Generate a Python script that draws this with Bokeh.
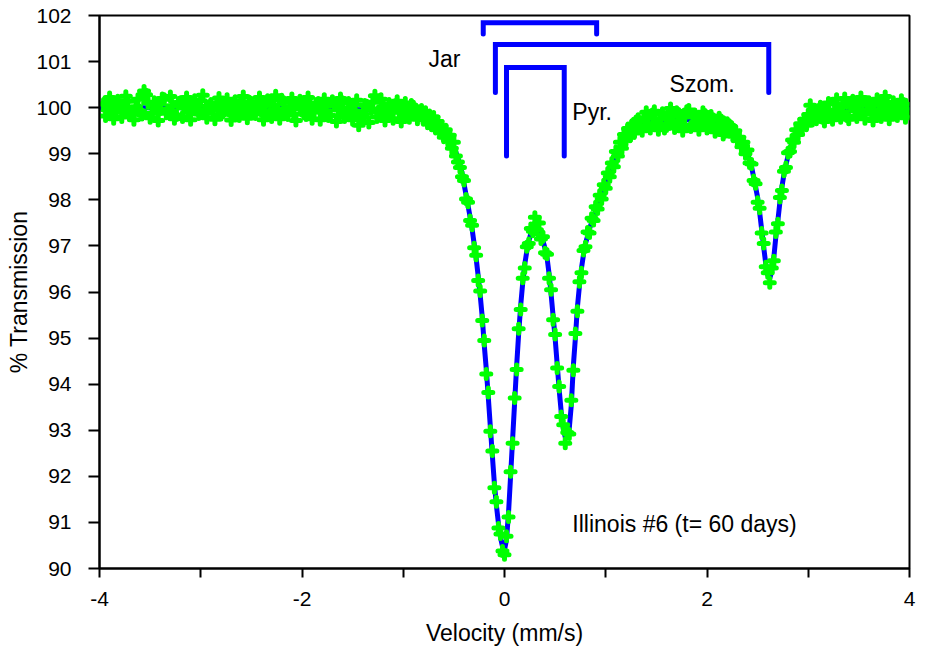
from bokeh.plotting import figure
from bokeh.models import FixedTicker, Label, LinearAxis, Range1d
from bokeh.embed import file_html
from bokeh.resources import INLINE

# ---------------- data ----------------
seg_a_vel = [-3.96, -3.92, -3.88, -3.84, -3.80, -3.76, -3.72, -3.68, -3.64, -3.60,
             -3.56, -3.52, -3.48, -3.44, -3.40, -3.36, -3.32, -3.28, -3.24, -3.20,
             -3.16, -3.12, -3.08, -3.04, -3.00, -2.96, -2.92, -2.88, -2.84, -2.80,
             -2.76, -2.72, -2.68, -2.64, -2.60, -2.56, -2.52, -2.48, -2.44, -2.40,
             -2.36, -2.32, -2.28, -2.24, -2.20, -2.16, -2.12, -2.08, -2.04, -2.00,
             -1.96, -1.92, -1.88, -1.84, -1.80, -1.76, -1.72, -1.68, -1.64, -1.60,
             -1.56, -1.52, -1.48, -1.44, -1.40, -1.36, -1.32, -1.28, -1.24, -1.20,
             -1.16, -1.12, -1.08, -1.04, -1.00, -0.96, -0.92, -0.88, -0.84]
seg_a_trans = [100.08, 99.95, 100.12, 99.90, 100.05, 99.98, 100.14, 99.86, 100.02, 99.93,
               100.36, 100.10, 99.88, 100.06, 99.97, 100.18, 99.92, 100.04, 99.84, 100.12,
               100.00, 99.90, 100.08, 99.96, 100.15, 99.88, 100.03, 99.95, 100.10, 99.85,
               100.02, 99.94, 100.09, 99.90, 100.06, 99.97, 100.13, 99.89, 100.04, 99.93,
               100.11, 99.87, 100.05, 99.96, 100.17, 99.92, 100.02, 99.86, 100.08, 99.98,
               99.84, 100.06, 99.94, 100.10, 99.90, 100.03, 99.83, 100.07, 99.95, 100.12,
               99.88, 100.00, 99.93, 99.62, 99.85, 100.04, 99.97, 100.26, 99.90, 100.02,
               99.82, 99.96, 100.05, 99.90, 99.97, 99.84, 100.06, 99.93, 99.88]
seg_a2_vel = [-3.94, -3.90, -3.86, -3.82, -3.78, -3.74, -3.70, -3.66, -3.62, -3.58,
              -3.54, -3.50, -3.46, -3.42, -3.38, -3.34, -3.30, -3.26, -3.22, -3.18,
              -3.14, -3.10, -3.06, -3.02, -2.98, -2.94, -2.90, -2.86, -2.82, -2.78,
              -2.74, -2.70, -2.66, -2.62, -2.58, -2.54, -2.50, -2.46, -2.42, -2.38,
              -2.34, -2.30, -2.26, -2.22, -2.18, -2.14, -2.10, -2.06, -2.02, -1.98,
              -1.94, -1.90, -1.86, -1.82, -1.78, -1.74, -1.70, -1.66, -1.62, -1.58,
              -1.54, -1.50, -1.46, -1.42, -1.38, -1.34, -1.30, -1.26, -1.22, -1.18,
              -1.14, -1.10, -1.06, -1.02, -0.98, -0.94, -0.90, -0.86]
seg_a2_trans = [99.82, 100.22, 99.76, 100.15, 99.80, 100.25, 99.90, 99.74, 100.18, 99.85,
                100.28, 99.78, 100.12, 99.72, 100.20, 99.88, 100.24, 99.76, 100.10, 99.80,
                100.22, 99.74, 100.16, 99.86, 100.27, 99.78, 100.08, 99.75, 100.21, 99.90,
                100.18, 99.73, 100.14, 99.82, 100.24, 99.77, 100.10, 99.86, 100.22, 99.74,
                100.16, 99.80, 100.26, 99.76, 100.12, 99.84, 100.20, 99.72, 100.15, 99.88,
                100.22, 99.76, 100.08, 99.74, 100.18, 99.82, 100.14, 99.70, 100.20, 99.80,
                100.10, 99.74, 100.16, 99.78, 100.06, 99.68, 100.12, 99.80, 100.18, 99.72,
                100.08, 99.76, 100.14, 99.70, 100.10, 99.78, 100.02, 99.75]
seg_b_vel = [-0.82, -0.80, -0.78, -0.76, -0.74, -0.72, -0.70, -0.68, -0.66, -0.64,
             -0.62, -0.60, -0.58, -0.56, -0.54, -0.52, -0.50, -0.48, -0.46, -0.44,
             -0.42, -0.40, -0.38, -0.36, -0.34, -0.32, -0.30, -0.28, -0.26, -0.24,
             -0.22, -0.20, -0.18, -0.16, -0.14, -0.12, -0.10, -0.08, -0.06, -0.04,
             -0.02, 0.00, 0.02, 0.04, 0.06, 0.08, 0.10, 0.12, 0.14, 0.16,
             0.18, 0.20, 0.22, 0.24, 0.26, 0.28, 0.30, 0.32, 0.34, 0.36,
             0.38, 0.40, 0.42, 0.44, 0.46, 0.48, 0.50, 0.52, 0.54, 0.56,
             0.58, 0.60, 0.62, 0.64, 0.66, 0.68, 0.70, 0.72, 0.74, 0.76,
             0.78, 0.80, 0.82, 0.84, 0.86, 0.88, 0.90, 0.92, 0.94, 0.96,
             0.98, 1.00, 1.02, 1.04, 1.06, 1.08, 1.10, 1.12, 1.14, 1.16,
             1.18, 1.20, 1.22, 1.24, 1.26, 1.28, 1.30]
seg_b_trans = [99.95, 99.74, 99.90, 99.66, 99.83, 99.62, 99.80, 99.55, 99.70, 99.48,
               99.60, 99.36, 99.52, 99.30, 99.40, 99.12, 99.25, 98.95, 98.82, 98.70,
               98.50, 98.42, 98.02, 97.95, 97.55, 97.45, 96.96, 96.80, 96.25, 96.02,
               95.38, 94.95, 94.22, 93.82, 92.98, 92.55, 91.75, 91.45, 90.88, 90.75,
               90.38, 90.30, 90.70, 91.12, 92.10, 92.72, 93.70, 94.32, 95.20, 95.62,
               96.30, 96.52, 96.98, 97.05, 97.38, 97.32, 97.62, 97.35, 97.50, 97.15,
               97.20, 96.85, 96.82, 96.30, 96.05, 95.40, 95.08, 94.35, 93.95, 93.30,
               93.12, 92.72, 92.95, 92.92, 93.65, 94.30, 95.10, 95.58, 96.22, 96.42,
               96.90, 96.98, 97.30, 97.28, 97.60, 97.55, 97.85, 97.80, 98.10, 98.02,
               98.33, 98.25, 98.58, 98.50, 98.80, 98.72, 99.05, 98.95, 99.25, 99.12,
               99.42, 99.30, 99.55, 99.38, 99.62, 99.45, 99.70]
seg_c_vel = [1.34, 1.38, 1.42, 1.46, 1.50, 1.54, 1.58, 1.62, 1.66, 1.70,
             1.74, 1.78, 1.82, 1.86, 1.90, 1.94, 1.98, 2.02, 2.06, 2.10,
             2.14, 2.18, 2.22]
seg_c_trans = [99.58, 99.78, 99.60, 99.85, 99.66, 99.75, 99.55, 99.82, 99.70, 99.90,
               99.64, 99.80, 99.95, 99.62, 99.78, 99.68, 99.84, 99.60, 99.75, 99.55,
               99.72, 99.48, 99.62]
seg_c2_vel = [1.32, 1.36, 1.40, 1.44, 1.48, 1.52, 1.56, 1.60, 1.64, 1.68,
              1.72, 1.76, 1.80, 1.84, 1.88, 1.92, 1.96, 2.00, 2.04, 2.08,
              2.12, 2.16, 2.20]
seg_c2_trans = [99.75, 99.50, 99.90, 99.55, 99.92, 99.52, 99.88, 99.60, 99.98, 99.56,
                99.86, 99.50, 99.92, 99.58, 99.85, 99.52, 99.90, 99.55, 99.82, 99.48,
                99.78, 99.42, 99.66]
seg_d_vel = [2.24, 2.26, 2.28, 2.30, 2.32, 2.34, 2.36, 2.38, 2.40, 2.42,
             2.44, 2.46, 2.48, 2.50, 2.52, 2.54, 2.56, 2.58, 2.60, 2.62,
             2.64, 2.66, 2.68, 2.70, 2.72, 2.74, 2.76, 2.78, 2.80, 2.82,
             2.84, 2.86, 2.88, 2.90, 2.92, 2.94, 2.96, 2.98, 3.00, 3.02,
             3.04, 3.06, 3.08, 3.10]
seg_d_trans = [99.58, 99.38, 99.50, 99.30, 99.36, 99.15, 99.25, 99.00, 99.08, 98.80,
               98.78, 98.42, 98.35, 97.95, 97.82, 97.28, 97.05, 96.55, 96.42, 96.20,
               96.52, 96.68, 97.30, 97.48, 98.05, 98.20, 98.62, 98.70, 99.02, 99.05,
               99.30, 99.25, 99.52, 99.42, 99.65, 99.55, 99.75, 99.62, 99.85, 100.05,
               99.72, 99.90, 99.75, 99.95]
seg_e_vel = [3.14, 3.18, 3.22, 3.26, 3.30, 3.34, 3.38, 3.42, 3.46, 3.50,
             3.54, 3.58, 3.62, 3.66, 3.70, 3.74, 3.78, 3.82, 3.86, 3.90,
             3.94, 3.98]
seg_e_trans = [99.78, 99.95, 99.85, 100.08, 99.90, 100.02, 99.82, 100.10, 99.94, 100.05,
               99.87, 100.12, 99.96, 99.85, 100.06, 99.92, 100.10, 99.88, 100.03, 99.94,
               100.08, 99.90]
seg_e2_vel = [3.12, 3.16, 3.20, 3.24, 3.28, 3.32, 3.36, 3.40, 3.44, 3.48,
              3.52, 3.56, 3.60, 3.64, 3.68, 3.72, 3.76, 3.80, 3.84, 3.88,
              3.92, 3.96]
seg_e2_trans = [100.02, 99.70, 100.10, 99.74, 100.18, 99.78, 100.20, 99.75, 100.15, 99.80,
                100.22, 99.76, 100.12, 99.72, 100.18, 99.80, 100.24, 99.75, 100.12, 99.82,
                100.16, 99.78]

fit_left_vel = [-4.0, -3.5, -3.0, -2.5, -2.0, -1.5, -1.2, -1.0, -0.9]
fit_left_trans = [100.0, 100.0, 100.0, 99.99, 99.98, 99.96, 99.94, 99.90, 99.87]
fit_b_trans = [99.83, 99.82, 99.80, 99.78, 99.76, 99.74, 99.72, 99.68, 99.64, 99.59,
               99.55, 99.50, 99.44, 99.38, 99.31, 99.23, 99.15, 99.03, 98.91, 98.77,
               98.59, 98.35, 98.11, 97.87, 97.63, 97.37, 97.05, 96.73, 96.35, 95.93,
               95.46, 94.85, 94.33, 93.72, 93.08, 92.45, 91.85, 91.37, 90.98, 90.68,
               90.48, 90.40, 90.63, 91.22, 92.00, 92.80, 93.60, 94.40, 95.10, 95.71,
               96.20, 96.60, 96.88, 97.10, 97.27, 97.39, 97.45, 97.41, 97.34, 97.24,
               97.11, 96.95, 96.75, 96.40, 95.96, 95.48, 95.00, 94.44, 93.88, 93.40,
               93.05, 92.85, 92.82, 93.05, 93.55, 94.40, 95.00, 95.67, 96.13, 96.51,
               96.81, 97.05, 97.21, 97.37, 97.51, 97.63, 97.75, 97.87, 97.99, 98.11,
               98.23, 98.35, 98.47, 98.59, 98.71, 98.83, 98.95, 99.05, 99.15, 99.24,
               99.32, 99.40, 99.44, 99.48, 99.52, 99.56, 99.60]
fit_mid_vel = [1.34, 1.4, 1.5, 1.6, 1.7, 1.8, 1.9, 2.0, 2.1, 2.2]
fit_mid_trans = [99.63, 99.68, 99.72, 99.73, 99.74, 99.74, 99.72, 99.70, 99.65, 99.55]
fit_d_trans = [99.50, 99.45, 99.40, 99.35, 99.29, 99.23, 99.16, 99.08, 99.00, 98.87,
               98.72, 98.50, 98.28, 98.05, 97.73, 97.35, 96.97, 96.62, 96.37, 96.30,
               96.45, 96.75, 97.20, 97.55, 97.95, 98.28, 98.55, 98.76, 98.95, 99.10,
               99.23, 99.34, 99.42, 99.50, 99.56, 99.61, 99.65, 99.69, 99.72, 99.74,
               99.76, 99.78, 99.80, 99.82]
fit_right_vel = [3.2, 3.4, 3.6, 3.8, 4.0]
fit_right_trans = [99.88, 99.94, 99.97, 99.98, 100.0]

jar_x = [-0.21, -0.21, 0.91, 0.91]
jar_y = [101.60, 101.84, 101.84, 101.60]
szom_x = [-0.09, -0.09, 2.61, 2.61]
szom_y = [100.33, 101.37, 101.37, 100.33]
pyr_x = [0.02, 0.02, 0.59, 0.59]
pyr_y = [98.95, 100.87, 100.87, 98.95]

x_ticks = [-4, -3, -2, -1, 0, 1, 2, 3, 4]
x_tick_labels = {-4: "-4", -3: "", -2: "-2", -1: "", 0: "0", 1: "", 2: "2", 3: "", 4: "4"}
y_ticks = [90, 91, 92, 93, 94, 95, 96, 97, 98, 99, 100, 101, 102]
code_tick = [3.9]
code_label = {3.9: "D-4612"}

data_x = (seg_a_vel + seg_a2_vel + seg_b_vel + seg_c_vel + seg_c2_vel
          + seg_d_vel + seg_e_vel + seg_e2_vel)
data_y = (seg_a_trans + seg_a2_trans + seg_b_trans + seg_c_trans + seg_c2_trans
          + seg_d_trans + seg_e_trans + seg_e2_trans)
fit_x = fit_left_vel + seg_b_vel + fit_mid_vel + seg_d_vel + fit_right_vel
fit_y = fit_left_trans + fit_b_trans + fit_mid_trans + fit_d_trans + fit_right_trans
assert len(data_x) == len(data_y)
assert len(fit_x) == len(fit_y)

FONT = "Liberation Sans"

p = figure(width=924, height=648,
           x_range=Range1d(-4, 4), y_range=Range1d(90, 102),
           output_backend="svg", toolbar_location=None,
           min_border_left=99, min_border_right=15,
           min_border_top=15, min_border_bottom=79)
p.xgrid.visible = False
p.ygrid.visible = False
p.outline_line_color = "black"
p.outline_line_width = 2
p.outline_line_alpha = 1.0
p.background_fill_color = "white"
p.border_fill_color = "white"

for ax in (p.xaxis[0], p.yaxis[0]):
    ax.axis_line_color = "black"
    ax.axis_line_width = 2
    ax.major_tick_line_color = "black"
    ax.major_tick_line_width = 2
    ax.minor_tick_line_color = None
    ax.major_tick_in = 0
    ax.major_label_text_font = FONT
    ax.major_label_text_font_size = "21px"
    ax.major_label_text_color = "black"
    ax.axis_label_text_font = FONT
    ax.axis_label_text_font_size = "23px"
    ax.axis_label_text_font_style = "normal"
    ax.axis_label_text_color = "black"

p.xaxis.ticker = FixedTicker(ticks=x_ticks)
p.xaxis.major_label_overrides = x_tick_labels
p.xaxis.major_tick_out = 9
p.xaxis.major_label_standoff = 14
p.xaxis.axis_label = "Velocity (mm/s)"
p.xaxis.axis_label_standoff = 11

p.yaxis.ticker = FixedTicker(ticks=y_ticks)
p.yaxis.major_tick_out = 11
p.yaxis.major_label_standoff = 17
p.yaxis.axis_label = "% Transmission"
p.yaxis.axis_label_standoff = 1

# drawing code below the axis, in the bottom-right corner: an extra
# line-less axis pinned to the frame bottom (takes no layout space)
code_axis = LinearAxis(fixed_location=90, ticker=FixedTicker(ticks=code_tick),
                       major_label_overrides=code_label,
                       axis_line_color=None, major_tick_line_color=None,
                       minor_tick_line_color=None, major_tick_in=0, major_tick_out=0,
                       major_label_standoff=62,
                       major_label_text_font=FONT, major_label_text_font_size="15px",
                       major_label_text_color="black")
p.add_layout(code_axis, "below")

# fit curve, then measured points on top
p.line(fit_x, fit_y, line_color="#0000FF", line_width=5)
p.scatter(data_x, data_y, marker="cross", size=9, line_color="#00FF00",
          line_width=5, line_cap="round")

for bx, by in ((jar_x, jar_y), (szom_x, szom_y), (pyr_x, pyr_y)):
    p.line(bx, by, line_color="#0000FF", line_width=5, line_cap="round",
           line_join="miter")

def add_label(x, y, text, size="23px", align="left", baseline="alphabetic", **kw):
    p.add_layout(Label(x=x, y=y, text=text, text_font=FONT, text_font_size=size,
                       text_color="black", text_align=align,
                       text_baseline=baseline, **kw))

add_label(-0.75, 101.05, "Jar")
add_label(0.67, 99.90, "Pyr.")
add_label(1.63, 100.52, "Szom.")
add_label(0.67, 90.97, "Illinois #6 (t= 60 days)")

open("out.html", "w").write(file_html(p, INLINE))
